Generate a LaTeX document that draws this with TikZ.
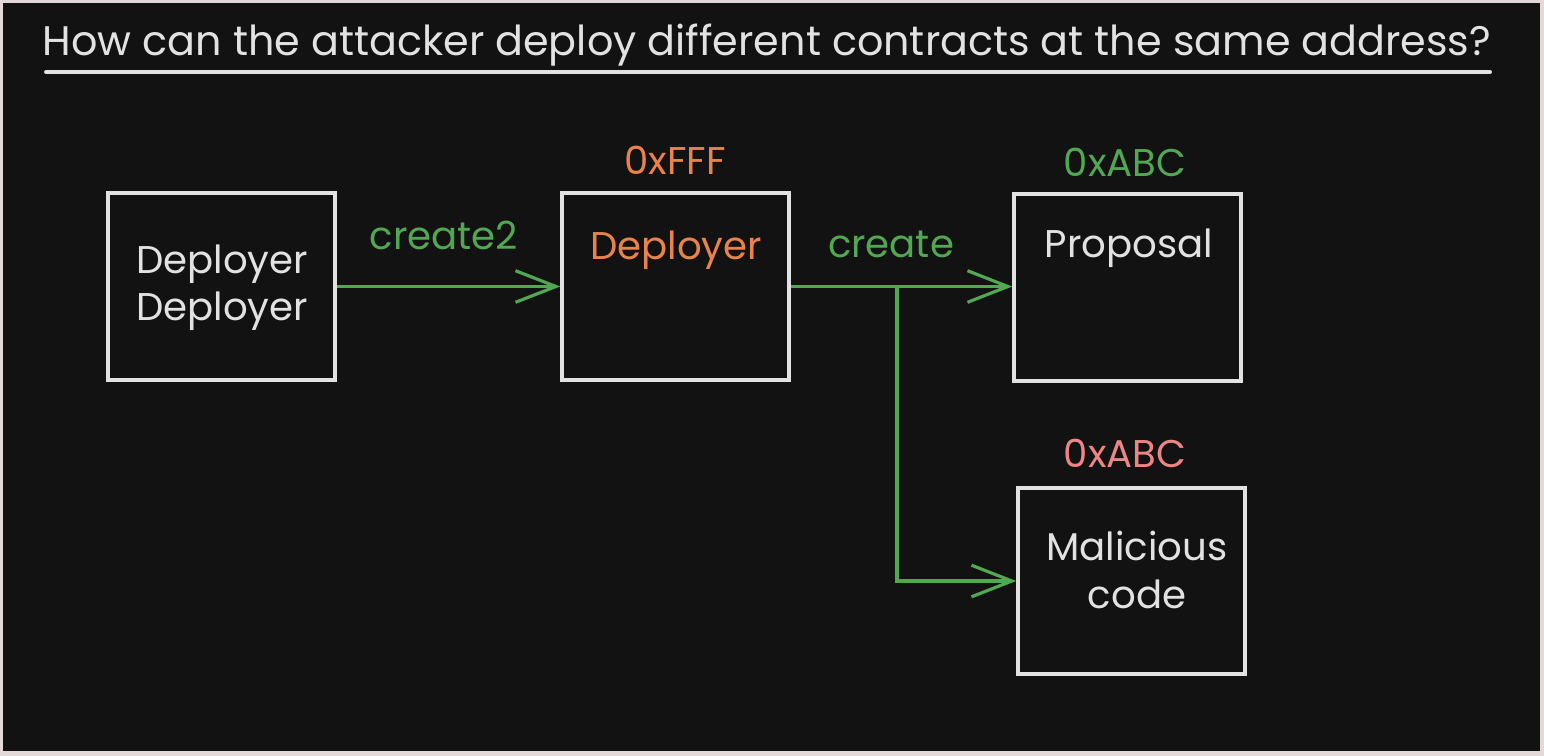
\documentclass[tikz,border=0pt]{standalone}
\usepackage{fontspec}
\setmainfont{Poppins}
\usetikzlibrary{arrows.meta}
\definecolor{frameclr}{HTML}{E4D9D9}
\definecolor{boardclr}{HTML}{121212}
\definecolor{chalk}{HTML}{E2E2E2}
\definecolor{grn}{HTML}{52A852}
\definecolor{orng}{HTML}{E8834C}
\definecolor{pinkred}{HTML}{EE8585}
\begin{document}
\begin{tikzpicture}[x=0.02cm,y=-0.02cm,
  box/.style={draw=chalk,line width=2pt,minimum width=227*0.02cm,minimum height=187*0.02cm,inner sep=0pt},
  txt/.style={text=chalk,font=\fontsize{22}{27}\selectfont,align=center,inner sep=0pt},
  addr/.style={font=\fontsize{22}{27}\selectfont,inner sep=0pt},
  link/.style={draw=grn,line width=1.8pt,-{Straight Barb[length=23pt,width=18pt,line width=1.8pt]}}]
\useasboundingbox (0,0) rectangle (1544,756);
% board
\fill [frameclr] (0,0) rectangle (1544,756);
\fill [boardclr] (3,3) rectangle (1540,751);
% title
\node [text=chalk,font=\fontsize{23.5}{28}\selectfont,inner sep=0pt] (title) at (767,45) {How can the attacker deploy different contracts at the same address?};
\draw [chalk,line width=2.2pt,line cap=round] (46,72) -- (1490,72);
% boxes
\node [box] (dd) at (221.5,286.5) {};
\node [txt] (ddtext) at (222,288) {Deployer\\Deployer};
\node [box] (dep) at (675.5,286.5) {};
\node [txt,text=orng] (deptext) at (676,250) {Deployer};
\node [addr,text=orng] (depaddr) at (675,160) {0xFFF};
\node [box] (prop) at (1127.5,287.5) {};
\node [txt] (proptext) at (1129,248) {Proposal};
\node [addr,text=grn] (propaddr) at (1125,162) {0xABC};
\node [box,minimum height=186*0.02cm] (mal) at (1131.5,581) {};
\node [txt] (maltext) at (1137,570) {Malicious\\code};
\node [addr,text=pinkred] (maladdr) at (1125,453) {0xABC};
% connectors
\coordinate (split) at (897,287);
\draw [link] (dd.east) -- (dep.west);
\node [addr,text=grn] (c2) at (444,235) {create2};
\draw [link] (dep.east) -- (dep.east -| prop.west);
\node [addr,text=grn] (c1) at (891,244) {create};
\draw [link] (split) |- (mal.west);
\end{tikzpicture}
\end{document}
